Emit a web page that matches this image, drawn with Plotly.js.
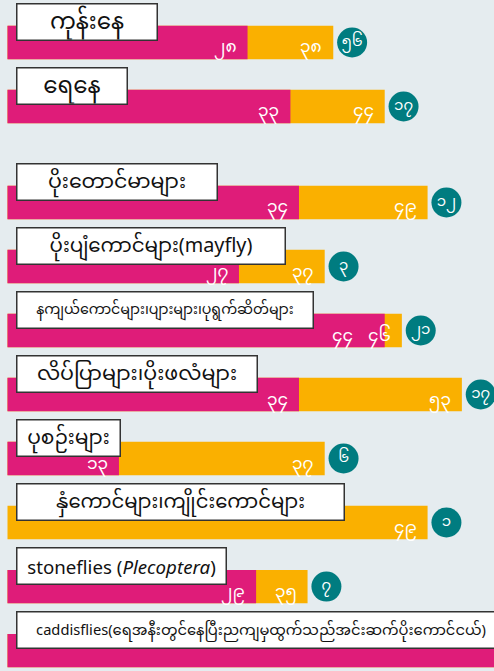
<!DOCTYPE html>
<html>
<head>
<meta charset="utf-8">
<script src="https://cdn.plot.ly/plotly-3.0.1.min.js"></script>
<style>
html,body{margin:0;padding:0;background:#E5ECEF;}
#chart{width:494px;height:671px;}
</style>
</head>
<body>
<div id="chart"></div>
<script>
// ---- data ----
const habitatLabels = ['ကုန်းနေ', 'ရေနေ'];
const habitatPink   = [28, 33];
const habitatOrange = [38, 44];
const habitatCircle = [56, 17];

const insectLabels = [
  'ပိုးတောင်မာများ',
  'ပိုးပျံကောင်များ(mayfly)',
  'နကျယ်ကောင်များ၊ပျားများ၊ပုရွက်ဆိတ်များ',
  'လိပ်ပြာများ၊ပိုးဖလံများ',
  'ပုစဉ်းများ',
  'နှံကောင်များ၊ကျိုင်းကောင်များ',
  'stoneflies (<i>Plecoptera</i>)',
  'caddisflies(ရေအနီးတွင်နေပြီးညကျမှထွက်သည်အင်းဆက်ပိုးကောင်ငယ်)'
];
const insectPink   = [34, 27, 44, 34, 13, 0, 29, 60];
const insectOrange = [49, 37, 46, 53, 37, 49, 35, 58];
const insectCircle = [12, 3, 21, 17, 6, 1, 7, null];

// ---- style constants ----
const PINK = '#DF1C79', ORANGE = '#FAB000', TEAL = '#007C80', BG = '#E5ECEF';
const habitatBoxW = [142, 112];
const habitatFont = [23, 23];
const insectBoxW = [202, 270, 298, 242, 105, 329, 211, 490];
const insectFont = [20.5, 19.8, 14.2, 20.6, 20.2, 19.6, 18.7, 14.7];
const PX_PER_UNIT = 8.573;
const X0 = -7.5 / PX_PER_UNIT;
const X1 = (494 - 7.5) / PX_PER_UNIT;
const CIRCLE_OFFSET = 2.2;

function my(n) { return String(n).replace(/\d/g, d => String.fromCharCode(0x1040 + Number(d))); }

const FONT = 'Noto Sans, Noto Sans Myanmar, Padauk, Myanmar Text, sans-serif';

const traces = [];
const annotations = [];

function addGroup(labels, pink, orange, circle, yaxis, boxW, fonts) {
  traces.push({
    type: 'bar', orientation: 'h', x: orange, y: labels, yaxis: yaxis,
    marker: {color: ORANGE}, width: 0.52, hoverinfo: 'skip'
  });
  traces.push({
    type: 'bar', orientation: 'h', x: pink, y: labels, yaxis: yaxis,
    marker: {color: PINK}, width: 0.52, hoverinfo: 'skip'
  });
  const cx = [], cy = [], ct = [];
  labels.forEach((lab, i) => {
    if (circle[i] !== null) {
      cx.push(orange[i] + CIRCLE_OFFSET); cy.push(lab); ct.push(my(circle[i]));
    }
  });
  traces.push({
    type: 'scatter', mode: 'markers+text', x: cx, y: cy, yaxis: yaxis,
    text: ct, textposition: 'middle center',
    textfont: {color: 'white', size: 15, family: FONT},
    marker: {color: TEAL, size: 30, line: {width: 0}}, hoverinfo: 'skip', cliponaxis: false
  });
  const yref = yaxis;
  labels.forEach((lab, i) => {
    const p = pink[i], o = orange[i];
    if (o > 0 && o < X1) {
      annotations.push({x: o, y: lab, xref: 'x', yref: yref, text: my(o), showarrow: false,
        xanchor: 'right', yanchor: 'middle', xshift: -9, yshift: -5,
        font: {color: 'white', size: 17, family: FONT}});
    }
    if (p > 0 && p < X1) {
      let shift = -9;
      const gapPx = (o - p) * PX_PER_UNIT;
      if (gapPx < 30) shift = -9 - (30 - gapPx) - 8;
      annotations.push({x: p, y: lab, xref: 'x', yref: yref, text: my(p), showarrow: false,
        xanchor: 'right', yanchor: 'middle', xshift: shift, yshift: -5,
        font: {color: 'white', size: 17, family: FONT}});
    }
    annotations.push({x: 16 / 494, y: lab, xref: 'paper', yref: yref, text: lab, showarrow: false,
      xanchor: 'left', yanchor: 'bottom', yshift: 1.5,
      width: boxW[i] - 3, height: 35, align: 'center', valign: 'middle',
      bgcolor: 'white', bordercolor: '#333333', borderwidth: 1.5, borderpad: 0,
      font: {color: '#111111', size: fonts[i], family: FONT}});
  });
}

addGroup(habitatLabels, habitatPink, habitatOrange, habitatCircle, 'y', habitatBoxW, habitatFont);
addGroup(insectLabels, insectPink, insectOrange, insectCircle, 'y2', insectBoxW, insectFont);

const layout = {
  width: 494, height: 671,
  margin: {l: 0, r: 0, t: 0, b: 0, pad: 0},
  paper_bgcolor: BG, plot_bgcolor: BG,
  barmode: 'overlay', showlegend: false,
  font: {family: FONT},
  xaxis: {range: [X0, X1], visible: false, fixedrange: true},
  yaxis: {domain: [1 - 138.5 / 671, 1 - 10.5 / 671], type: 'category', range: [1.5, -0.5],
          visible: false, anchor: 'x'},
  yaxis2: {domain: [0, 1 - 170.5 / 671], type: 'category', range: [7.32, -0.5],
           visible: false, anchor: 'x'},
  annotations: annotations
};

Plotly.newPlot('chart', traces, layout, {displayModeBar: false, staticPlot: true});
</script>
</body>
</html>
